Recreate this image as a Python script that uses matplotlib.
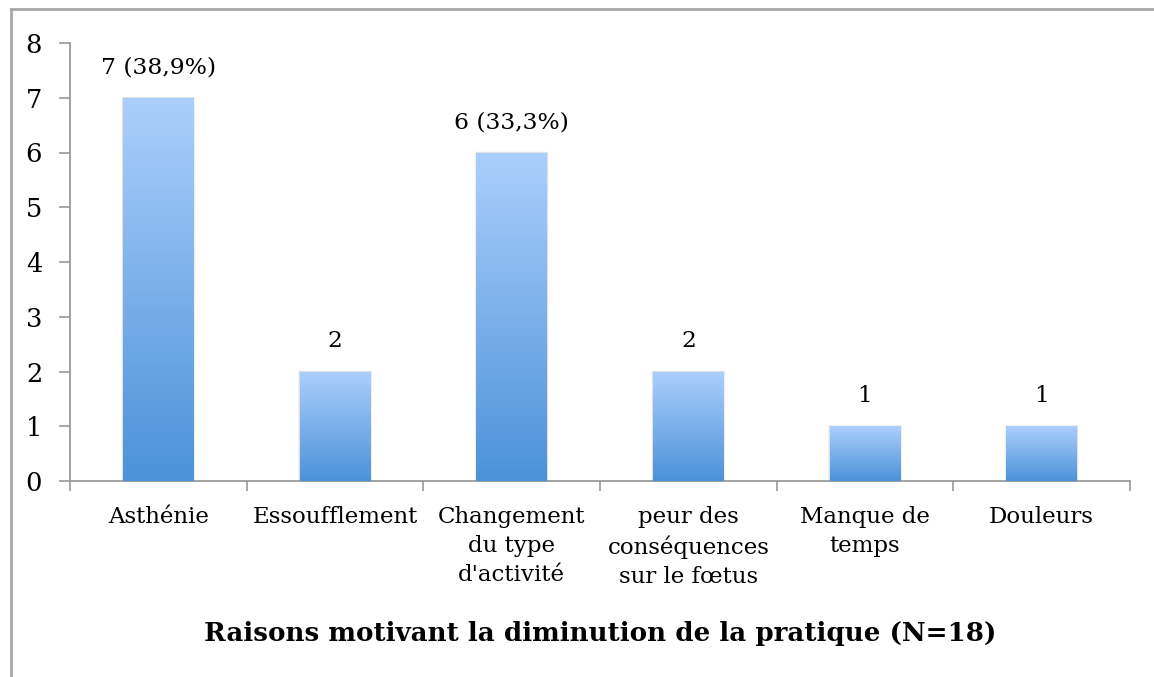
import matplotlib.pyplot as plt
import matplotlib.patches as patches
from matplotlib.lines import Line2D
from matplotlib.colors import LinearSegmentedColormap
import numpy as np

plt.rc('font', family='DejaVu Serif', size=16)

categories = ["Asthénie", "Essoufflement", "Changement\ndu type\nd'activité",
              "peur des\nconséquences\nsur le fœtus", "Manque de\ntemps", "Douleurs"]
counts = [7, 2, 6, 2, 1, 1]
bar_labels = ["7 (38,9%)", "2", "6 (33,3%)", "2", "1", "1"]
title = "Raisons motivant la diminution de la pratique (N=18)"

axis_grey = '#9a9a9a'
grad = LinearSegmentedColormap.from_list('bar', ['#4c92d9', '#abcffc'])

fig = plt.figure(figsize=(11.54, 6.77), dpi=100)

# outer frame (only top and left edges fall inside the image)
fig.add_artist(Line2D([11/1154, 11/1154], [0, 1-9/677], transform=fig.transFigure,
                      color='#a8a8a8', lw=2))
fig.add_artist(Line2D([11/1154, 1], [1-9/677, 1-9/677], transform=fig.transFigure,
                      color='#a8a8a8', lw=2))

ax = fig.add_axes([70/1154, 1-481/677, (1130-70)/1154, (481-43)/677])
x = np.arange(len(categories))
width = 0.40

bars = ax.bar(x, counts, width=width, color='none', edgecolor='none', zorder=3)
grad_img = np.linspace(0, 1, 256).reshape(-1, 1)
for b in bars:
    x0, h = b.get_x(), b.get_height()
    # soft shadow
    for k, a in enumerate([0.06, 0.04, 0.02]):
        d = 0.012 * (k + 1)
        ax.add_patch(patches.Rectangle((x0 - d*0.3, 0), width + 2*d*0.3, h + d*0.6,
                                       facecolor='black', alpha=a, lw=0, zorder=2))
    im = ax.imshow(grad_img, cmap=grad, aspect='auto', origin='lower',
                   extent=[x0, x0 + width, 0, h], zorder=3)
    im.set_clip_path(b)

for xi, c, lab in zip(x, counts, bar_labels):
    ax.text(xi, c + 0.55, lab, ha='center', va='center', fontsize=16.8)

ax.set_xlim(-0.5, len(categories) - 0.5)
ax.set_ylim(0, 8)
ax.set_yticks(np.arange(0, 9, 1))
ax.set_xticks(np.arange(-0.5, len(categories), 1))
ax.set_xticklabels([])
ax.set_xticks(x, minor=True)
ax.set_xticklabels(categories, minor=True, linespacing=1.42, va='top')
ax.tick_params(axis='x', which='minor', length=0, pad=18, labelsize=16.5)
ax.tick_params(axis='x', which='major', length=7, color=axis_grey, width=1.2)
ax.tick_params(axis='y', length=8, color=axis_grey, width=1.2, pad=12, labelsize=18.5)

for s in ['top', 'right']:
    ax.spines[s].set_visible(False)
for s in ['left', 'bottom']:
    ax.spines[s].set_color(axis_grey)
    ax.spines[s].set_linewidth(1.3)

fig.text(600/1154, 1-634/677, title, ha='center', va='center',
         fontsize=18.8, fontweight='bold')

plt.savefig('out.png', dpi=100)
